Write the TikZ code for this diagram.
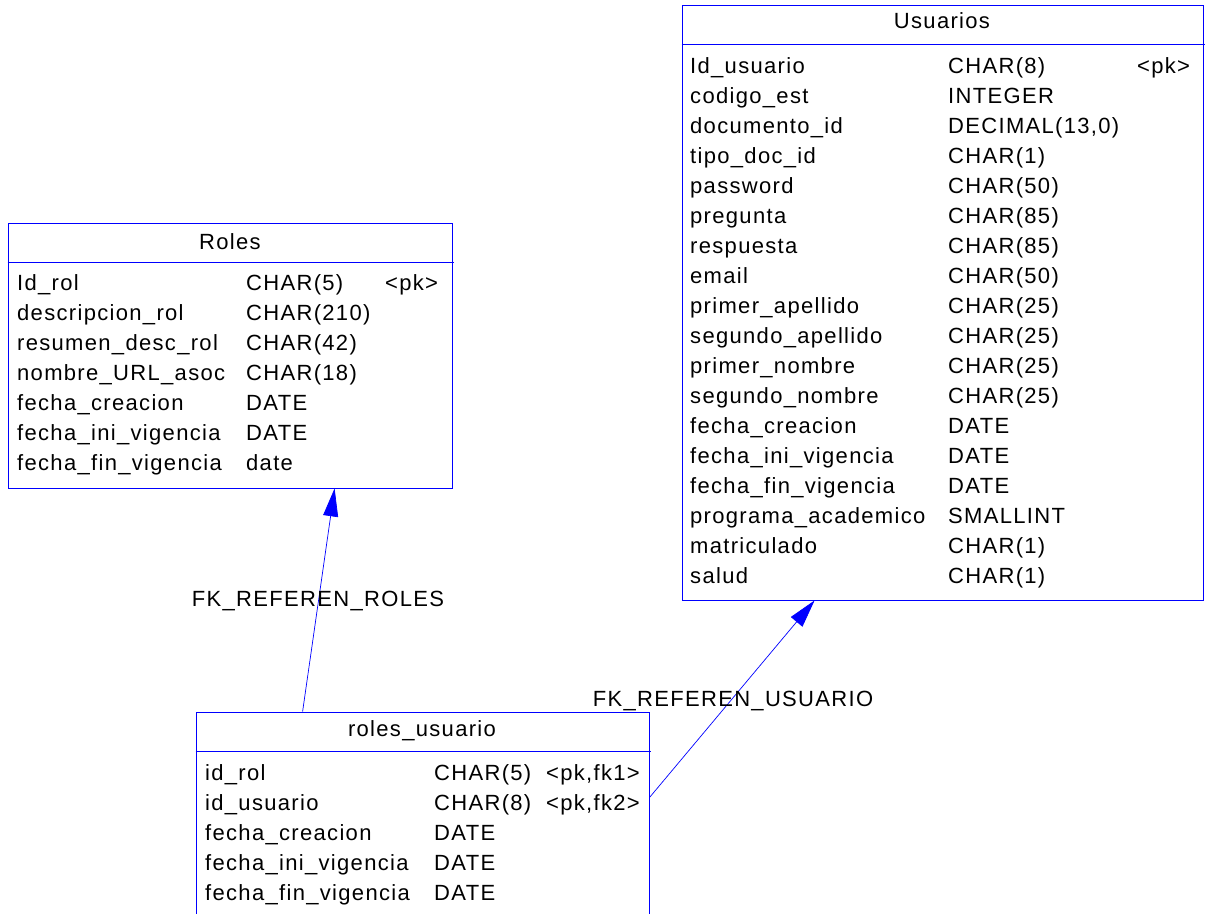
\documentclass[tikz,border=0pt]{standalone}
\usepackage{fontspec}
\setmainfont{Liberation Sans}[LetterSpace=6]
\usepackage{tikz}
\usetikzlibrary{arrows.meta}
\tikzstyle{tabla}=[draw=blue, line width=0.8pt, rectangle, inner sep=0pt]
\tikzstyle{campo}=[anchor=base west, inner sep=0pt, font=\fontsize{22}{26}\selectfont]
\tikzstyle{titulo}=[anchor=base, inner sep=0pt, font=\fontsize{22}{26}\selectfont]
\tikzstyle{fk}=[draw=blue, line width=0.7pt, -{Triangle[length=28pt,width=15pt]}]

\begin{document}
\begin{tikzpicture}[x=1pt,y=-1pt]
\useasboundingbox (0,0) rectangle (1206,913);

% tablas
\node[tabla, minimum width=521pt, minimum height=595pt] (usuarios) at (942.5,302.5) {};
\node[tabla, minimum width=444pt, minimum height=265pt] (roles) at (230,355.5) {};
\node[tabla, minimum width=453pt, minimum height=213pt] (rolesusuario) at (422.5,818.5) {};

% cabeceras
\draw[blue, line width=0.8pt] ([yshift=-40pt]usuarios.north west) -- ([yshift=-40pt,xshift=2pt]usuarios.north east);
\draw[blue, line width=0.8pt] ([yshift=-40pt]roles.north west) -- ([yshift=-40pt,xshift=2pt]roles.north east);
\draw[blue, line width=0.8pt] ([yshift=-40pt]rolesusuario.north west) -- ([yshift=-40pt,xshift=2pt]rolesusuario.north east);
\node[titulo] (t-usuarios) at (942,28) {Usuarios};
\node[titulo] (t-roles) at (230,249) {Roles};
\node[titulo] (t-rolesusuario) at (422,736) {roles\_usuario};

% Usuarios
\foreach \nom/\tipo [count=\i from 0] in {Id\_usuario/CHAR(8), codigo\_est/INTEGER,
	documento\_id/{DECIMAL(13,0)}, tipo\_doc\_id/CHAR(1), password/CHAR(50),
	pregunta/CHAR(85), respuesta/CHAR(85), email/CHAR(50), primer\_apellido/CHAR(25),
	segundo\_apellido/CHAR(25), primer\_nombre/CHAR(25), segundo\_nombre/CHAR(25),
	fecha\_creacion/DATE, fecha\_ini\_vigencia/DATE, fecha\_fin\_vigencia/DATE,
	programa\_academico/SMALLINT, matriculado/CHAR(1), salud/CHAR(1)} {
	\node[campo] (us-n\i) at (690,{73+30*\i}) {\nom};
	\node[campo] (us-t\i) at (948,{73+30*\i}) {\tipo};
}
\node[campo] (us-k0) at (1137,73) {<pk>};

% Roles
\foreach \nom/\tipo [count=\i from 0] in {Id\_rol/CHAR(5), descripcion\_rol/CHAR(210),
	resumen\_desc\_rol/CHAR(42), nombre\_URL\_asoc/CHAR(18), fecha\_creacion/DATE,
	fecha\_ini\_vigencia/DATE, fecha\_fin\_vigencia/date} {
	\node[campo] (ro-n\i) at (17,{290+30*\i}) {\nom};
	\node[campo] (ro-t\i) at (246,{290+30*\i}) {\tipo};
}
\node[campo] (ro-k0) at (385,290) {<pk>};

% roles_usuario
\foreach \nom/\tipo [count=\i from 0] in {id\_rol/CHAR(5), id\_usuario/CHAR(8),
	fecha\_creacion/DATE, fecha\_ini\_vigencia/DATE, fecha\_fin\_vigencia/DATE} {
	\node[campo] (ru-n\i) at (205,{780+30*\i}) {\nom};
	\node[campo] (ru-t\i) at (434,{780+30*\i}) {\tipo};
}
\node[campo] (ru-k0) at (546,780) {<pk,fk1>};
\node[campo] (ru-k1) at (546,810) {<pk,fk2>};

% referencias
\draw[fk] ([xshift=107pt]rolesusuario.north west) -- ([xshift=327pt]roles.south west);
\draw[fk] ([yshift=-86pt]rolesusuario.north east) -- ([xshift=133pt]usuarios.south west);
\node[titulo] (fk-roles) at (318,606) {FK\_REFEREN\_ROLES};
\node[titulo] (fk-usuario) at (733,706) {FK\_REFEREN\_USUARIO};
\end{tikzpicture}
\end{document}
